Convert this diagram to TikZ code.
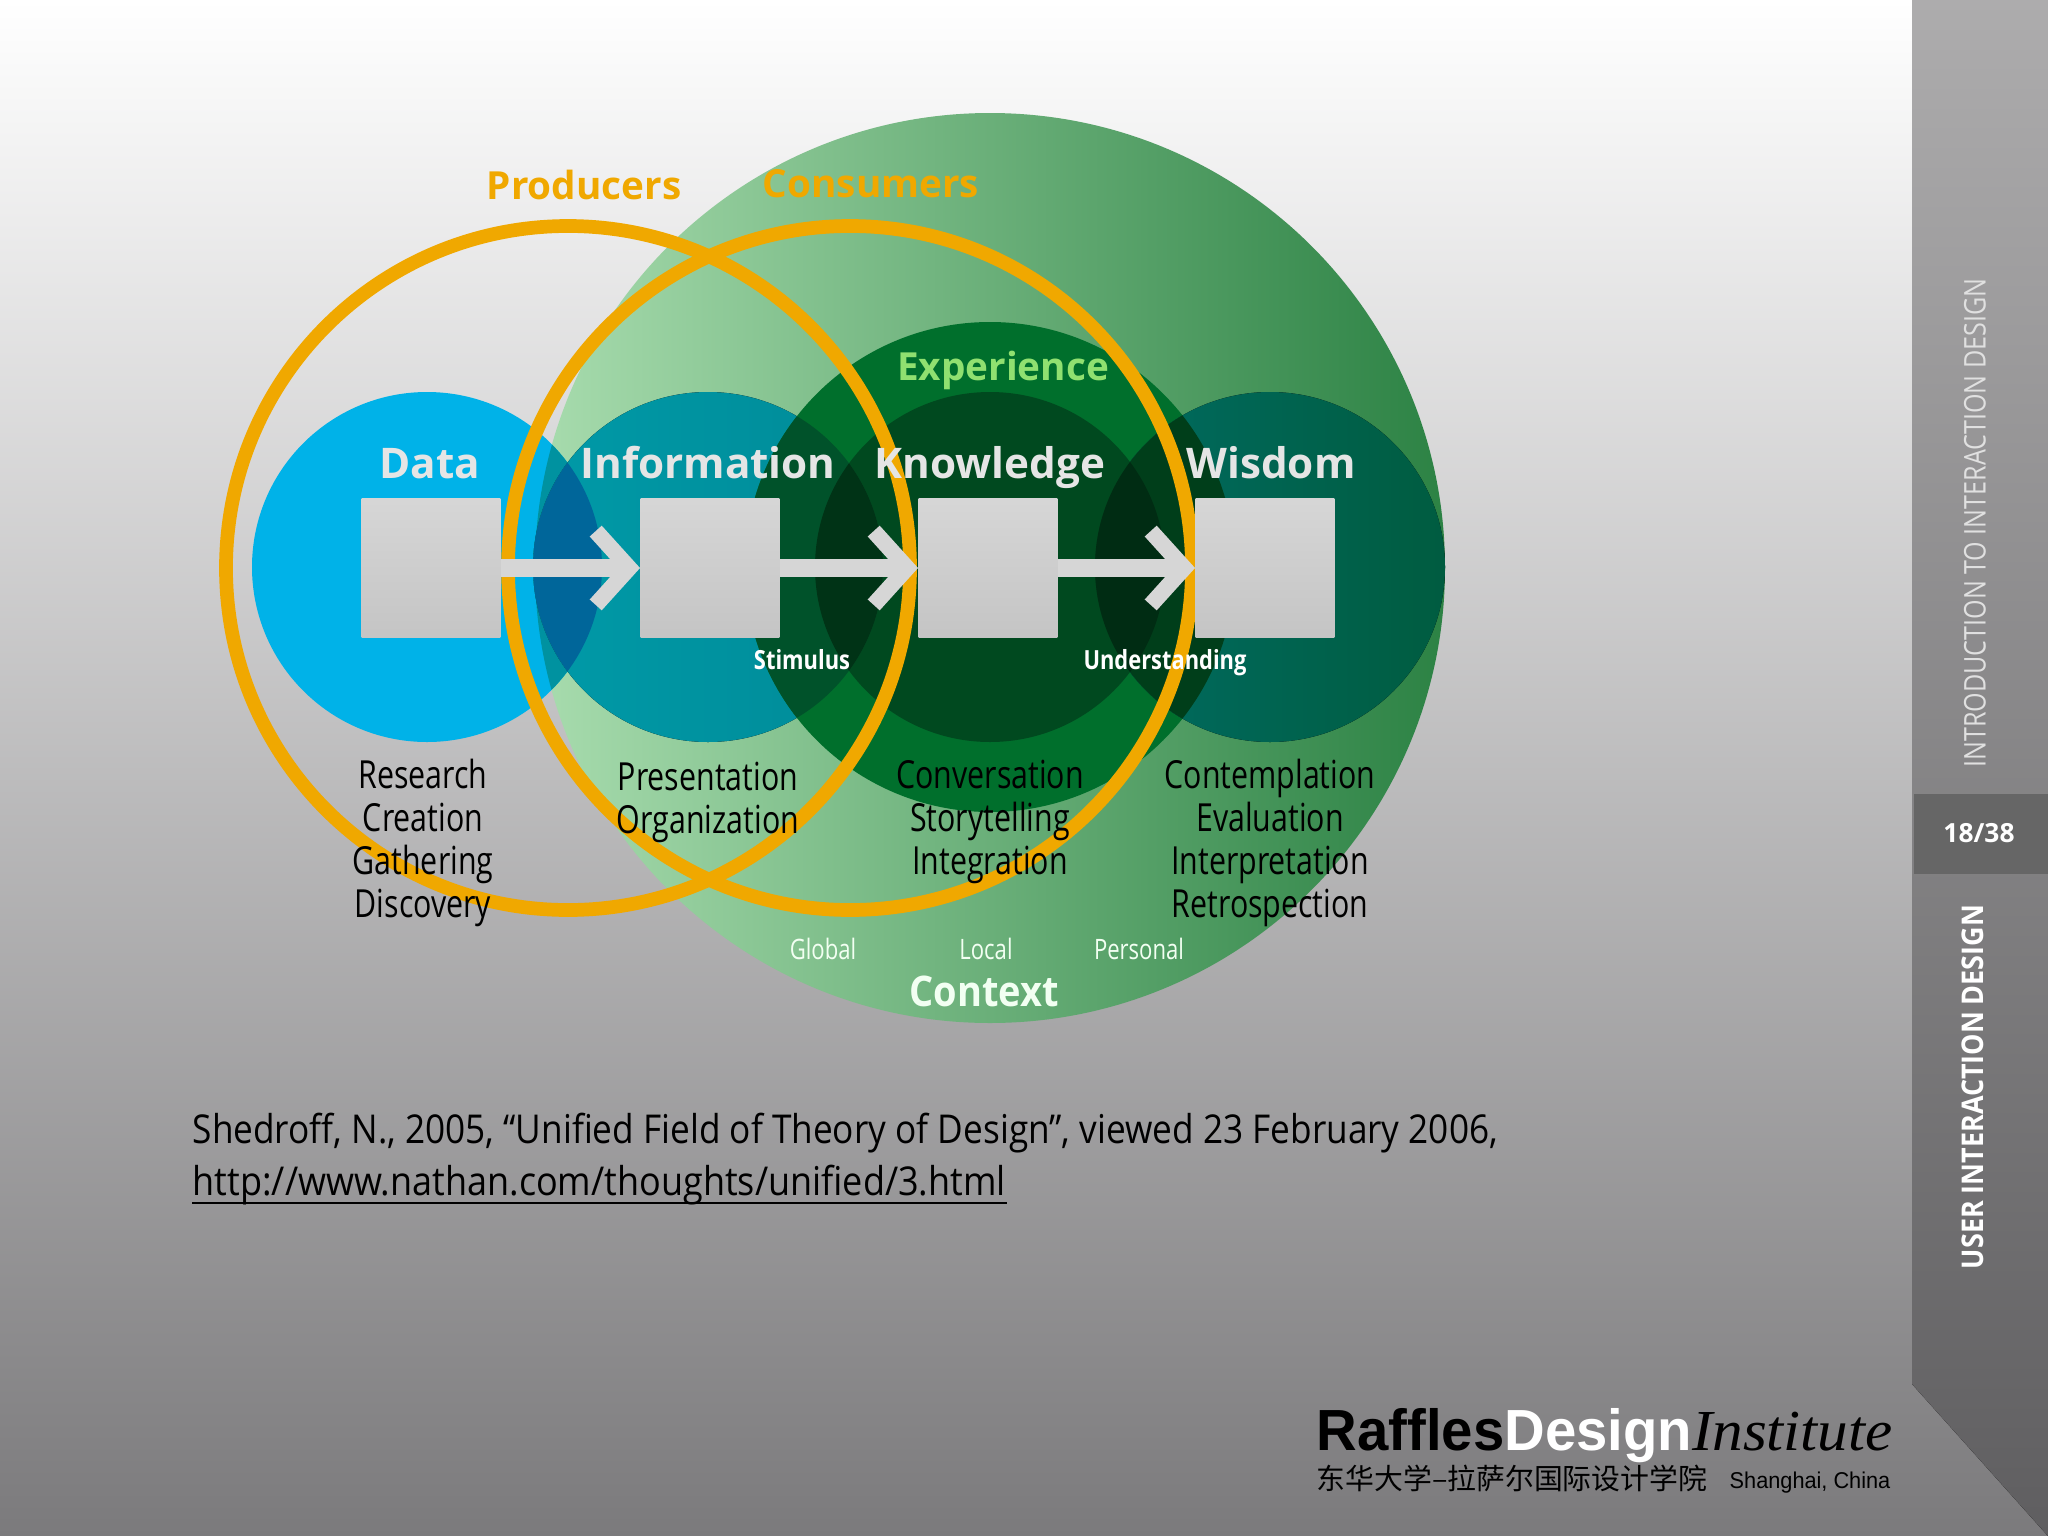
\documentclass[tikz,border=0pt]{standalone}
\usepackage{fontspec}
\setmainfont{Open Sans}
\newfontfamily\figfont[FakeStretch=.785]{Open Sans}
\newfontfamily\tinyfont[FakeStretch=.83]{Open Sans}
\newfontfamily\headfont[FakeStretch=1.0]{Open Sans}
\newfontfamily\ctxfont[FakeStretch=.9]{Open Sans}
\newfontfamily\sidefont[FakeStretch=.84]{Open Sans}
\newfontfamily\userfont[FakeStretch=.9]{Open Sans}
\newfontfamily\citefont[FakeStretch=.886]{Open Sans}
\newfontfamily\urlfont[FakeStretch=.906]{Open Sans}
\newfontfamily\logofont[FakeStretch=.97]{Liberation Sans}
\newfontfamily\cityfont[FakeStretch=.95]{Liberation Sans}
\newfontfamily\logoserif[FakeStretch=1.055]{Liberation Serif}
\newfontfamily\cjk{Noto Sans CJK SC}
\usetikzlibrary{arrows.meta}
\definecolor{ringc}{HTML}{F0A800}
\definecolor{datac}{HTML}{00B2E8}
\definecolor{infoc}{HTML}{009AA8}
\definecolor{lensc}{HTML}{00669A}
\definecolor{expc}{HTML}{006F2C}
\definecolor{knowc}{HTML}{00491F}
\definecolor{bigl}{HTML}{A8DCAE}
\definecolor{bigm}{HTML}{78B88A}
\definecolor{bigr}{HTML}{2C8244}
\definecolor{wisl}{HTML}{006C62}
\definecolor{wisr}{HTML}{005C40}
\definecolor{bgend}{HTML}{7B7A7C}
\definecolor{sideend}{HTML}{5F5E60}
\definecolor{sidetop}{HTML}{ADACAD}
\definecolor{expl}{HTML}{90E070}
\tikzset{
    ring/.style = {draw=ringc, line width=3.9pt},
    sqnode/.style = {minimum size=39.4pt, inner sep=0pt, top color=black!16, bottom color=black!23},
    edgea/.style = {line width=5.2pt, black!16, -{Straight Barb[length=9.5pt,width=21pt,line width=4.6pt]}},
    headl/.style = {inner sep=0pt, anchor=base, text=black!10, font=\headfont\bfseries\fontsize{12}{14}\selectfont},
    ringl/.style = {inner sep=0pt, anchor=base, text=ringc, font=\headfont\bfseries\fontsize{11}{13}\selectfont},
    listl/.style = {inner sep=0pt, align=center, text=black, font=\figfont\fontsize{11}{12.2}\selectfont},
    tinyl/.style = {inner sep=0pt, anchor=base, text=white, font=\tinyfont\bfseries\fontsize{7.5}{9}\selectfont},
    ctxl/.style = {inner sep=0pt, anchor=base, text=green!5, font=\figfont\fontsize{8}{10}\selectfont},
}
\newcommand{\lens}[3]{\begin{scope}\clip #1;\fill[#3] #2;\end{scope}}
\def\cbig{(990,568) circle (455)}
\def\cdata{(427,567) circle (175)}
\def\cinfo{(708,567) circle (175)}
\def\cknow{(990,567) circle (175)}
\def\cwis{(1270,567) circle (175)}
\def\cexp{(990,567) circle (245)}
\begin{document}
\begin{tikzpicture}[x=0.01cm,y=-0.01cm]
\path[use as bounding box, top color=white, bottom color=bgend] (0,0) rectangle (2048,1536);
% side bar
\fill[top color=sidetop, bottom color=sideend] (1912,0) -- (2048,0) -- (2048,1536) -- (1912,1384) -- cycle;
\fill[black!60] (1914,794) rectangle (2048,874);
% green circles
\shade[left color=bigl, middle color=bigm, right color=bigr] \cbig;
\fill[datac] \cdata;
\lens{\cdata}{\cbig}{color=infoc!95!black}
\fill[left color=infoc, right color=infoc!90!black] \cinfo;
\fill[expc] \cexp;
\fill[left color=wisl, right color=wisr] \cwis;
\fill[knowc] \cknow;
%
\lens{\cdata}{\cinfo}{color=lensc}
\lens{\cinfo}{\cexp}{color=knowc!95!cyan}
\lens{\cinfo}{\cknow}{color=knowc!70!black}
\lens{\cwis}{\cexp}{color=knowc!85!black}
\lens{\cwis}{\cknow}{color=knowc!60!black}
% rings
\draw[ring] (568,568) circle (342);
\draw[ring] (850,568) circle (342);
% boxes
\node[sqnode] at (431,568) (sqdata) {};
\node[sqnode] at (710,568) (sqinfo) {};
\node[sqnode] at (988,568) (sqknow) {};
\node[sqnode] at (1265,568) (sqwis) {};
%
\draw[edgea] (sqdata) -- (sqinfo);
\draw[edgea] (sqinfo) -- (sqknow);
\draw[edgea] (sqknow) -- (sqwis);
% labels
\node[ringl] at (584,199) (prod) {Producers};
\node[ringl] at (871,197) (cons) {Consumers};
\node[ringl, text=expl] at (1003,380) (exper) {Experience};
\node[headl] at (430,478) (hdata) {Data};
\node[headl] at (708,478) (hinfo) {Information};
\node[headl] at (990,478) (hknow) {Knowledge};
\node[headl] at (1271,478) (hwis) {Wisdom};
\node[tinyl] at (802,669) (stim) {Stimulus};
\node[tinyl] at (1165,669) (under) {Understanding};
\node[listl] at (423,843) (ldata) {Research\\Creation\\Gathering\\Discovery};
\node[listl] at (708,802) (linfo) {Presentation\\Organization};
\node[listl] at (990,822) (lknow) {Conversation\\Storytelling\\Integration};
\node[listl] at (1270,843) (lwis) {Contemplation\\Evaluation\\Interpretation\\Retrospection};
\node[ctxl] at (823,959) (glob) {Global};
\node[ctxl] at (986,959) (loc) {Local};
\node[ctxl] at (1139,959) (pers) {Personal};
\node[headl, text=green!5, font=\ctxfont\bfseries\fontsize{12}{14}\selectfont] at (984,1006) (ctx) {Context};
% citation
\node[inner sep=0pt, anchor=base west, font=\citefont\fontsize{11.3}{13}\selectfont] at (192,1143) (cita) {Shedroff, N., 2005, “Unified Field of Theory of Design”, viewed 23 February 2006,};
\node[inner sep=0pt, anchor=base west, font=\urlfont\fontsize{11.3}{13}\selectfont] at (192,1195) (citb) {http://www.nathan.com/thoughts/unified/3.html};
\draw[line width=.6pt] ([yshift=-2.3pt]citb.base west) -- ([yshift=-2.3pt]citb.base east);
% side texts
\node[inner sep=0pt, rotate=90, text=black!12, font=\sidefont\fontsize{8.5}{10}\selectfont] at (1975,523) (intro) {INTRODUCTION TO INTERACTION DESIGN};
\node[inner sep=0pt, rotate=90, text=white, font=\userfont\bfseries\fontsize{8.5}{10}\selectfont] at (1973,1087) (user) {USER INTERACTION DESIGN};
\node[inner sep=0pt, text=white, font=\headfont\bfseries\fontsize{7.5}{9}\selectfont] at (1979,833) (pageno) {18/38};
% logo
\node[inner sep=0pt, anchor=base west, font=\logofont\fontsize{16.5}{18}\selectfont] at (1316,1450) (logo) {\textbf{Raffles}\textcolor{white}{\textbf{Design}}{\logoserif\itshape Institute}};
\node[inner sep=0pt, anchor=base west, font=\cjk\fontsize{8.2}{10}\selectfont] at (1316,1489) (logocn) {东华大学–拉萨尔国际设计学院};
\node[inner sep=0pt, anchor=base east, font=\cityfont\fontsize{6.5}{8}\selectfont] at (1891,1488) (logocity) {Shanghai, China};
\end{tikzpicture}
\end{document}
